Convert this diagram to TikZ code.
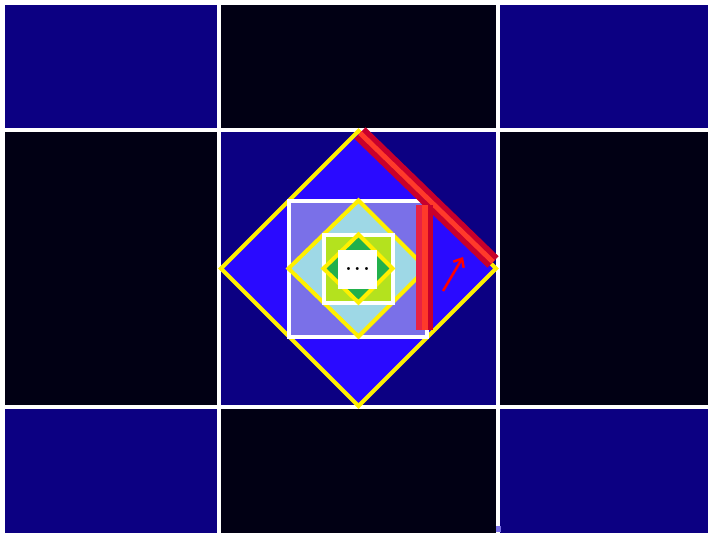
\documentclass[tikz,border=0pt]{standalone}
\usepackage{tikz}
\usetikzlibrary{arrows.meta,positioning}

\definecolor{navy}{HTML}{0C0082}
\definecolor{ink}{HTML}{010014}
\definecolor{brightblue}{HTML}{2A0AFF}
\definecolor{lavender}{HTML}{7A70E8}
\definecolor{skyblue}{HTML}{9ED8E6}
\definecolor{limegreen}{HTML}{B4E21E}
\definecolor{leafgreen}{HTML}{22B04C}
\definecolor{markyellow}{HTML}{FFF000}
\definecolor{hilite}{HTML}{C8002C}
\definecolor{hilitemid}{HTML}{FF3A2A}
\definecolor{hiliteleft}{HTML}{E82244}

\begin{document}
\begin{tikzpicture}[x=1pt,y=-1pt,
    frame/.style={draw=white,line width=4pt,line join=miter},
    rhomb/.style={draw=markyellow,line width=4pt,line join=miter},
    marker/.style={line width=#1,line cap=butt},
    label/.style={fill=white,minimum size=39pt,inner sep=0pt,font=\huge\bfseries}]

    \useasboundingbox[fill=white] (0,0) rectangle (708,532);
    \clip (0,0) rectangle (708,532);

    % tiling around the middle cell
    \foreach \xa/\xb [count=\i] in {5/217,221/496,500/775}
      \foreach \ya/\yb [count=\j] in {5/128,132/405,409/680} {
        \pgfmathparse{int(mod(\i+\j,2))}
        \ifnum\pgfmathresult=0
          \fill[navy] (\xa,\ya) rectangle (\xb,\yb);
        \else
          \fill[ink] (\xa,\ya) rectangle (\xb,\yb);
        \fi
      }
    \fill[lavender] (496,526) rectangle (501,532);

    \coordinate (mid) at (358.5,268.5);

    % nested diamonds and squares
    \filldraw[rhomb,fill=brightblue] ([yshift=-137.5]mid) -- ([xshift=137.5]mid)
      -- ([yshift=137.5]mid) -- ([xshift=-137.5]mid) -- cycle;
    \filldraw[frame,fill=lavender] ([shift={(-70,-68)}]mid) rectangle ([shift={(68,68)}]mid);
    \filldraw[rhomb,fill=skyblue] ([yshift=-68]mid) -- ([xshift=68]mid)
      -- ([yshift=68]mid) -- ([xshift=-70]mid) -- cycle;
    \filldraw[frame,fill=limegreen] ([shift={(-35,-34)}]mid) rectangle ([shift={(34,34)}]mid);
    \filldraw[rhomb,fill=leafgreen] ([yshift=-34]mid) -- ([xshift=34]mid)
      -- ([yshift=34]mid) -- ([xshift=-35]mid) -- cycle;
    \node[label] (more) at ([xshift=-1,yshift=-1]mid) {.\kern2.5pt.\kern2.5pt.};

    % red marks
    \coordinate (hlA) at (360,133);
    \coordinate (hlB) at (493,262);
    \draw[hilite,marker=16pt] (hlA) -- (hlB);
    \draw[hilitemid,marker=5pt] (hlA) -- (hlB);
    \fill[hilite] (416,205) rectangle (433,330);
    \fill[hiliteleft] (416,205) rectangle (422,330);
    \fill[hilitemid] (422,205) rectangle (428,330);
    \coordinate (arA) at (443,291);
    \coordinate (arB) at (463,257);
    \draw[red,line width=2.5pt,-{Straight Barb[length=7pt,width=12pt]}] (arA) -- (arB);
\end{tikzpicture}
\end{document}
